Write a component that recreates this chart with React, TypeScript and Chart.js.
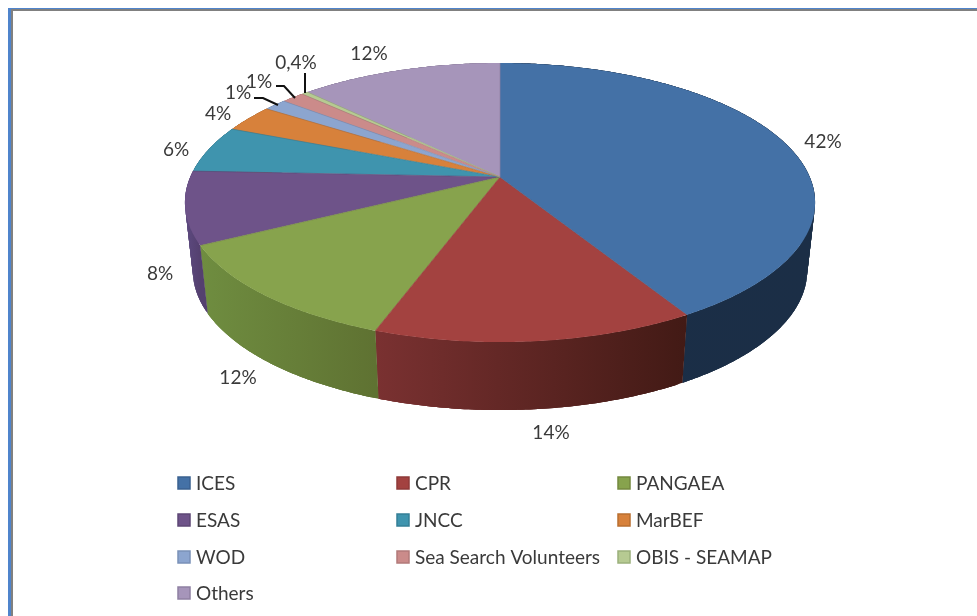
import React, { useEffect, useRef } from "react";
import { Chart, registerables } from "chart.js";

Chart.register(...registerables);

const categories = ["ICES", "CPR", "PANGAEA", "ESAS", "JNCC", "MarBEF", "WOD", "Sea Search Volunteers", "OBIS - SEAMAP", "Others"];
const shares = [41.5, 13.9, 11.9, 8.4, 5.5, 3.2, 1.4, 1.4, 0.4, 12.4];
const shareLabels = ["42%", "14%", "12%", "8%", "6%", "4%", "1%", "1%", "0,4%", "12%"];
const topColors = ["#4471a6", "#a34240", "#87a34d", "#6e5389", "#3f94ae", "#d7813b", "#8ca5cf", "#cb8b8a", "#b6ca92", "#a695ba"];
const edgeColors = ["#3a6190", "#8f3a38", "#74893f", "#5e4775", "#357f96", "#b96f31", "#7a91b8", "#b27a79", "#9bb07b", "#8f80a2"];
const sideFrom = ["#1a2e47", "#7a3131", "#6f8d40", "#5d4a80", "#2f6f83", "#a4612c", "#6a7d9c", "#9a6968", "#8a9a6e", "#7e708d"];
const sideTo = ["#1b2e46", "#421a15", "#5f7232", "#54406f", "#2f6f83", "#a4612c", "#6a7d9c", "#9a6968", "#8a9a6e", "#7e708d"];
const labelCentres = [[823, 142], [551, 433], [238, 378], [160, 274], [176, 150], [218, 114], [238, 93], [259, 82], [296, 63], [369, 54]];
const leaderLines = [
  [[254, 98], [263, 98], [278, 105]],
  [[276, 86], [284, 86], [295, 98]],
  [[305, 73], [305, 93]],
];
const legendColumns = [178, 397, 618];
const legendRows = [484, 521, 558, 594];

const FONT = "19px Lato";
const TILT = 0.183;
const WIDE = 2.717;
const TALL = 1.183;
const DEPTH = 68;
const SHRINK = 0.975;

const pie3d = {
  id: "pie3d",
  beforeDatasetsDraw(chart: any) {
    const ctx = chart.ctx;
    const arcs = chart.getDatasetMeta(0).data;
    const cx = arcs[0].x;
    const cy = arcs[0].y;
    const r = arcs[0].outerRadius;
    const project = (a: number) => {
      const t = a + Math.PI / 2;
      const u = Math.sin(t);
      const v = -Math.cos(t);
      const d = 1 - TILT * v;
      return [cx + (r * WIDE * u) / d, cy + (r * TALL * v) / d];
    };
    const lower = (p: number[]) => [cx + (p[0] - cx) * SHRINK, p[1] + DEPTH];
    const sample = (arc: any) => {
      const n = Math.max(4, Math.ceil((arc.endAngle - arc.startAngle) * 90));
      const pts: number[][] = [];
      for (let i = 0; i <= n; i++) pts.push(project(arc.startAngle + ((arc.endAngle - arc.startAngle) * i) / n));
      return pts;
    };
    ctx.save();
    arcs.forEach((arc: any, i: number) => {
      const pts = sample(arc);
      const xs = pts.map((p) => p[0]);
      const g = ctx.createLinearGradient(Math.min(...xs), 0, Math.max(...xs), 0);
      g.addColorStop(0, sideFrom[i]);
      g.addColorStop(1, sideTo[i]);
      ctx.fillStyle = g;
      for (let k = 0; k < pts.length - 1; k++) {
        const a = pts[k];
        const mid = pts[k + 1];
        const b = pts[Math.min(k + 3, pts.length - 1)];
        const bMid = pts[Math.min(k + 2, pts.length - 1)];
        ctx.beginPath();
        ctx.moveTo(a[0], a[1]);
        ctx.lineTo(mid[0], mid[1]);
        ctx.lineTo(bMid[0], bMid[1]);
        ctx.lineTo(b[0], b[1]);
        const lb = lower(b);
        const lbm = lower(bMid);
        const lm = lower(mid);
        const la = lower(a);
        ctx.lineTo(lb[0], lb[1]);
        ctx.lineTo(lbm[0], lbm[1]);
        ctx.lineTo(lm[0], lm[1]);
        ctx.lineTo(la[0], la[1]);
        ctx.closePath();
        ctx.fill();
      }
    });
    arcs.forEach((arc: any, i: number) => {
      const pts = sample(arc);
      ctx.beginPath();
      ctx.moveTo(cx, cy);
      pts.forEach((p) => ctx.lineTo(p[0], p[1]));
      ctx.closePath();
      ctx.fillStyle = topColors[i];
      ctx.fill();
    });
    arcs.forEach((arc: any, i: number) => {
      const pts = sample(arc);
      const last = pts[pts.length - 1];
      ctx.beginPath();
      ctx.moveTo(cx, cy);
      ctx.lineTo(last[0], last[1]);
      ctx.strokeStyle = edgeColors[i];
      ctx.lineWidth = 0.7;
      ctx.stroke();
    });
    ctx.restore();
    return false;
  },
  afterDraw(chart: any) {
    const ctx = chart.ctx;
    const colors = chart.data.datasets[0].backgroundColor;
    ctx.save();
    ctx.font = FONT;
    ctx.fillStyle = "#3a3a3a";
    ctx.textBaseline = "middle";
    ctx.textAlign = "center";
    shareLabels.forEach((t, i) => ctx.fillText(t, labelCentres[i][0], labelCentres[i][1]));
    ctx.strokeStyle = "#111111";
    ctx.lineWidth = 2;
    leaderLines.forEach((line) => {
      ctx.beginPath();
      line.forEach((p, k) => (k ? ctx.lineTo(p[0], p[1]) : ctx.moveTo(p[0], p[1])));
      ctx.stroke();
    });
    ctx.textAlign = "left";
    chart.data.labels.forEach((label: string, i: number) => {
      const x = legendColumns[i === 9 ? 0 : i % 3];
      const y = legendRows[i === 9 ? 3 : Math.floor(i / 3)] - 1;
      ctx.fillStyle = colors[i];
      ctx.fillRect(x, y - 6, 12, 12);
      ctx.strokeStyle = edgeColors[i];
      ctx.lineWidth = 1.5;
      ctx.strokeRect(x, y - 6, 12, 12);
      ctx.fillStyle = "#3a3a3a";
      ctx.fillText(label, x + 18, y + 1);
    });
    ctx.restore();
  },
};

export default function App() {
  const ref = useRef<HTMLCanvasElement>(null);
  useEffect(() => {
    const chart = new Chart(ref.current as HTMLCanvasElement, {
      type: "pie",
      data: {
        labels: categories,
        datasets: [{ data: shares, backgroundColor: topColors, borderWidth: 0 }],
      },
      options: {
        animation: false,
        responsive: false,
        layout: { padding: { left: 386, right: 363, top: 63, bottom: 325 } },
        plugins: { legend: { display: false }, tooltip: { enabled: false } },
      },
      plugins: [pie3d],
    } as any);
    return () => chart.destroy();
  }, []);
  return (
    <div style={{ position: "fixed", left: 0, top: 0, width: 977, height: 616, background: "#fff", overflow: "hidden" }}>
      <div style={{ position: "absolute", left: 8, top: 8, width: 969, height: 1, background: "#4f84cc" }} />
      <div style={{ position: "absolute", left: 8, top: 9, width: 969, height: 2, background: "#808080" }} />
      <div style={{ position: "absolute", left: 8, top: 8, width: 3, height: 608, background: "#4f84cc" }} />
      <div style={{ position: "absolute", left: 11, top: 11, width: 2, height: 605, background: "#808080" }} />
      <canvas ref={ref} width={977} height={616} style={{ position: "absolute", left: 0, top: 0, display: "block", filter: "blur(0.4px)" }} />
    </div>
  );
}
